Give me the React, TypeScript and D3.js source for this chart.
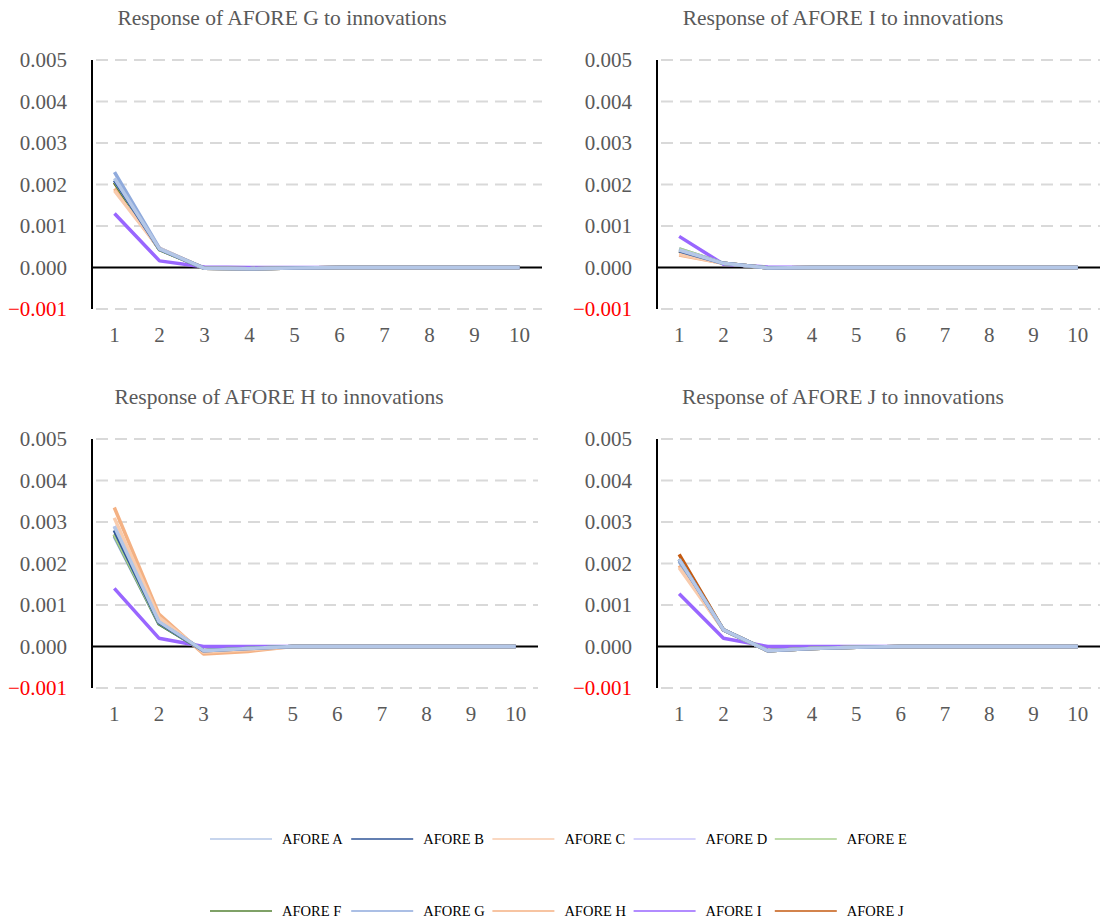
import React from "react";
import * as d3 from "d3";

const categories = [1, 2, 3, 4, 5, 6, 7, 8, 9, 10];
const yTicks = [-0.001, 0, 0.001, 0.002, 0.003, 0.004, 0.005];
const seriesNames = ["AFORE A", "AFORE B", "AFORE C", "AFORE D", "AFORE E", "AFORE F", "AFORE G", "AFORE H", "AFORE I", "AFORE J"];
const seriesColors = ["#b4c7e7", "#2f5597", "#f8cbad", "#c9c4fb", "#a9d18e", "#548235", "#8faadc", "#f4b183", "#9966ff", "#c55a11"];

// Response of AFORE G
const respG = [
  [0.00215, 0.00045, -0.00002, -0.00003, -0.00001, 0, 0, 0, 0, 0],
  [0.0021, 0.00044, -0.00002, -0.00003, -0.00001, 0, 0, 0, 0, 0],
  [0.00185, 0.00045, -0.00002, -0.00003, -0.00001, 0, 0, 0, 0, 0],
  [0.0021, 0.00045, -0.00002, -0.00003, -0.00001, 0, 0, 0, 0, 0],
  [0.0021, 0.00044, -0.00002, -0.00003, -0.00001, 0, 0, 0, 0, 0],
  [0.00205, 0.00043, -0.00002, -0.00003, -0.00001, 0, 0, 0, 0, 0],
  [0.0023, 0.00046, -0.00002, -0.00003, -0.00001, 0, 0, 0, 0, 0],
  [0.0019, 0.00046, -0.00002, -0.00003, -0.00001, 0, 0, 0, 0, 0],
  [0.0013, 0.00016, 0.00001, 0, 0, 0, 0, 0, 0, 0],
  [0.00205, 0.00044, -0.00002, -0.00003, -0.00001, 0, 0, 0, 0, 0],
];
// Response of AFORE I
const respI = [
  [0.00042, 0.0001, -0.00001, 0, 0, 0, 0, 0, 0, 0],
  [0.0004, 0.0001, -0.00001, 0, 0, 0, 0, 0, 0, 0],
  [0.00032, 0.0001, -0.00001, 0, 0, 0, 0, 0, 0, 0],
  [0.00042, 0.0001, -0.00001, 0, 0, 0, 0, 0, 0, 0],
  [0.00045, 0.0001, -0.00001, 0, 0, 0, 0, 0, 0, 0],
  [0.0004, 0.0001, -0.00001, 0, 0, 0, 0, 0, 0, 0],
  [0.00045, 0.0001, -0.00001, 0, 0, 0, 0, 0, 0, 0],
  [0.0003, 0.0001, -0.00001, 0, 0, 0, 0, 0, 0, 0],
  [0.00075, 0.00008, 0.00001, 0, 0, 0, 0, 0, 0, 0],
  [0.0004, 0.0001, -0.00001, 0, 0, 0, 0, 0, 0, 0],
];
// Response of AFORE H
const respH = [
  [0.0029, 0.0006, -0.0001, -0.00005, 0, 0, 0, 0, 0, 0],
  [0.0028, 0.00058, -0.0001, -0.00005, 0, 0, 0, 0, 0, 0],
  [0.0031, 0.0007, -0.00014, -0.00008, 0, 0, 0, 0, 0, 0],
  [0.0029, 0.0006, -0.0001, -0.00005, 0, 0, 0, 0, 0, 0],
  [0.0027, 0.00057, -0.0001, -0.00005, 0, 0, 0, 0, 0, 0],
  [0.0027, 0.00055, -0.0001, -0.00005, 0, 0, 0, 0, 0, 0],
  [0.00265, 0.00055, -0.0001, -0.00005, 0, 0, 0, 0, 0, 0],
  [0.00335, 0.00078, -0.00018, -0.00012, 0, 0, 0, 0, 0, 0],
  [0.0014, 0.0002, 0, 0, 0, 0, 0, 0, 0, 0],
  [0.0027, 0.00057, -0.0001, -0.00005, 0, 0, 0, 0, 0, 0],
];
// Response of AFORE J
const respJ = [
  [0.0021, 0.0004, -0.0001, -0.00005, -0.00002, 0, 0, 0, 0, 0],
  [0.0021, 0.0004, -0.0001, -0.00005, -0.00002, 0, 0, 0, 0, 0],
  [0.0019, 0.0004, -0.0001, -0.00005, -0.00002, 0, 0, 0, 0, 0],
  [0.0021, 0.0004, -0.0001, -0.00005, -0.00002, 0, 0, 0, 0, 0],
  [0.0021, 0.0004, -0.0001, -0.00005, -0.00002, 0, 0, 0, 0, 0],
  [0.0021, 0.0004, -0.0001, -0.00005, -0.00002, 0, 0, 0, 0, 0],
  [0.00205, 0.0004, -0.0001, -0.00005, -0.00002, 0, 0, 0, 0, 0],
  [0.00195, 0.0004, -0.0001, -0.00005, -0.00002, 0, 0, 0, 0, 0],
  [0.00127, 0.0002, 0, 0, 0, 0, 0, 0, 0, 0],
  [0.00222, 0.0004, -0.0001, -0.00005, -0.00002, 0, 0, 0, 0, 0],
];

const panels = [
  { title: "Response of AFORE G to innovations", data: respG, x0: 92, x1: 542, y0: 60, y1: 309, labelX: 67, titleX: 282, titleY: 25, tickY: 342 },
  { title: "Response of AFORE I to innovations", data: respI, x0: 657, x1: 1100, y0: 60, y1: 309, labelX: 632, titleX: 843, titleY: 25, tickY: 342 },
  { title: "Response of AFORE H to innovations", data: respH, x0: 92, x1: 538, y0: 439, y1: 688, labelX: 67, titleX: 279, titleY: 404, tickY: 721 },
  { title: "Response of AFORE J to innovations", data: respJ, x0: 657, x1: 1100, y0: 439, y1: 688, labelX: 632, titleX: 843, titleY: 404, tickY: 721 },
];

const FONT = "Liberation Serif, DejaVu Serif, serif";
const GRAY = "#595959";

function Panel({ p }: { p: typeof panels[number] }) {
  const x = d3.scaleBand<number>().domain(categories).range([p.x0, p.x1]);
  const y = d3.scaleLinear().domain([-0.001, 0.005]).range([p.y1, p.y0]);
  const line = d3
    .line<number>()
    .x((_, i) => (x(categories[i]) as number) + x.bandwidth() / 2)
    .y((v) => y(v));
  const order = d3.range(seriesNames.length).reverse();
  return (
    <g>
      <text x={p.titleX} y={p.titleY} textAnchor="middle" style={{ fontFamily: FONT }} fontSize={21.5} fill={GRAY}>
        {p.title}
      </text>
      {yTicks.filter((t) => t !== 0).map((t) => (
        <line key={"g" + t} x1={p.x0 + 4} x2={p.x1} y1={y(t)} y2={y(t)} stroke="#d9d9d9" strokeWidth={2} strokeDasharray="12,7" />
      ))}
      {yTicks.map((t) => (
        <text key={"l" + t} x={p.labelX} y={y(t)} dy="0.35em" textAnchor="end" style={{ fontFamily: FONT }} fontSize={21} fill={t < 0 ? "#ff0000" : GRAY}>
          {d3.format(".3f")(t)}
        </text>
      ))}
      {categories.map((c) => (
        <text key={"c" + c} x={(x(c) as number) + x.bandwidth() / 2} y={p.tickY} textAnchor="middle" style={{ fontFamily: FONT }} fontSize={21} fill={GRAY}>
          {c}
        </text>
      ))}
      <line x1={p.x0} x2={p.x1} y1={y(0)} y2={y(0)} stroke="#000" strokeWidth={2} />
      <line x1={p.x0} x2={p.x0} y1={p.y0} y2={p.y1} stroke="#000" strokeWidth={2} />
      {order.map((i) => (
        <path key={"s" + i} d={line(p.data[i]) as string} fill="none" stroke={seriesColors[i]} strokeWidth={3.5} strokeLinejoin="round" />
      ))}
    </g>
  );
}

export default function App() {
  return (
    <svg width={1100} height={924} style={{ position: "absolute", left: 0, top: 0, background: "#fff" }}>
      <rect width={1100} height={924} fill="#fff" />
      {panels.map((p, i) => (
        <Panel key={i} p={p} />
      ))}
      {seriesNames.map((n, i) => {
        const col = i % 5;
        const row = Math.floor(i / 5);
        const lx = 210 + col * 141.2;
        const ly = row === 0 ? 839 : 911;
        return (
          <g key={n}>
            <line x1={lx} x2={lx + 62} y1={ly} y2={ly} stroke={seriesColors[i]} strokeWidth={1.6} />
            <text x={lx + 72} y={ly} dy="0.35em" style={{ fontFamily: FONT }} fontSize={14.5} fill="#000">
              {n}
            </text>
          </g>
        );
      })}
    </svg>
  );
}
